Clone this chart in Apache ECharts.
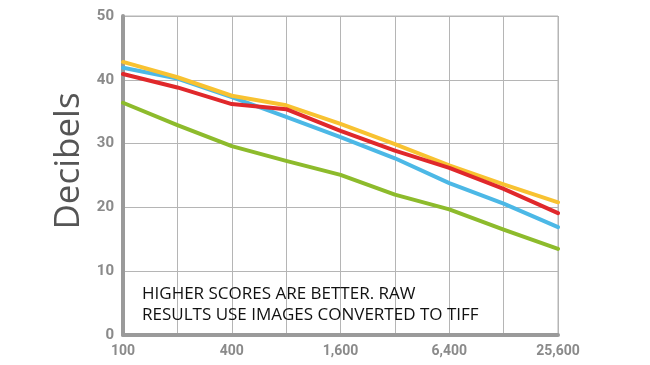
<!DOCTYPE html>
<html><head><meta charset="utf-8">
<script src="https://cdn.jsdelivr.net/npm/echarts@6/dist/echarts.min.js"></script>
<style>html,body{margin:0;padding:0;background:#fff}#c{width:650px;height:365px}</style>
</head><body><div id="c"></div>
<script>
const categories = ['100','200','400','800','1,600','3,200','6,400','12,800','25,600'];
const yellowVals = [42.8, 40.4, 37.5, 36.0, 33.1, 29.9, 26.6, 23.6, 20.8];
const redVals    = [40.9, 38.8, 36.2, 35.4, 32.0, 28.9, 26.2, 22.9, 19.1];
const blueVals   = [41.9, 40.2, 37.3, 34.2, 31.0, 27.7, 23.8, 20.6, 16.9];
const greenVals  = [36.4, 32.9, 29.6, 27.3, 25.1, 22.0, 19.7, 16.5, 13.5];
const yTicks = [0, 10, 20, 30, 40, 50];
const yLabel = 'Decibels';
const note = 'HIGHER SCORES ARE BETTER. RAW\nRESULTS USE IMAGES CONVERTED TO TIFF';

const chart = echarts.init(document.getElementById('c'), null, {renderer: 'canvas'});
const mk = (data, color, z) => ({type: 'line', data, symbol: 'none', z,
  lineStyle: {color, width: 4, cap: 'round', join: 'round'}});
chart.setOption({
  animation: false,
  grid: {left: 123, right: 92, top: 16, bottom: 30, show: false},
  xAxis: {
    type: 'category', data: categories, boundaryGap: false,
    axisLine: {show: true, lineStyle: {color: '#9a9a9a', width: 4}},
    axisTick: {show: false},
    axisLabel: {interval: 1, color: '#8a8a8a', fontFamily: 'Roboto', fontWeight: 'bold', fontSize: 14, margin: 9},
    splitLine: {show: true, interval: 0, lineStyle: {color: '#b5b5b5', width: 1}}
  },
  yAxis: {
    type: 'value', min: yTicks[0], max: yTicks[yTicks.length-1], interval: 10,
    axisLine: {show: true, lineStyle: {color: '#9a9a9a', width: 4}},
    axisTick: {show: false},
    axisLabel: {color: '#8a8a8a', fontFamily: 'Roboto', fontWeight: 'bold', fontSize: 15, margin: 9},
    splitLine: {show: true, lineStyle: {color: '#b5b5b5', width: 1}}
  },
  graphic: [
    {type: 'rect', shape: {x: 123, y: 16, width: 435, height: 319}, silent: true, z: -1,
     style: {fill: 'none', stroke: '#b5b5b5', lineWidth: 1}},
    {type: 'text', x: 69, y: 161, rotation: Math.PI / 2, z: 10,
     style: {text: yLabel, fontFamily: 'Open Sans', fontSize: 35, fill: '#555',
             textAlign: 'center', textVerticalAlign: 'middle'}},
    {type: 'text', left: 142, top: 284, z: 10,
     style: {text: note, fontFamily: 'Open Sans', fontSize: 17, lineHeight: 21, fill: '#111'}}
  ],
  series: [
    mk(greenVals, '#8dbb2c', 3),
    mk(blueVals, '#4cb8e6', 4),
    mk(yellowVals, '#f8c231', 5),
    mk(redVals, '#e0282b', 6)
  ]
});
</script></body></html>
